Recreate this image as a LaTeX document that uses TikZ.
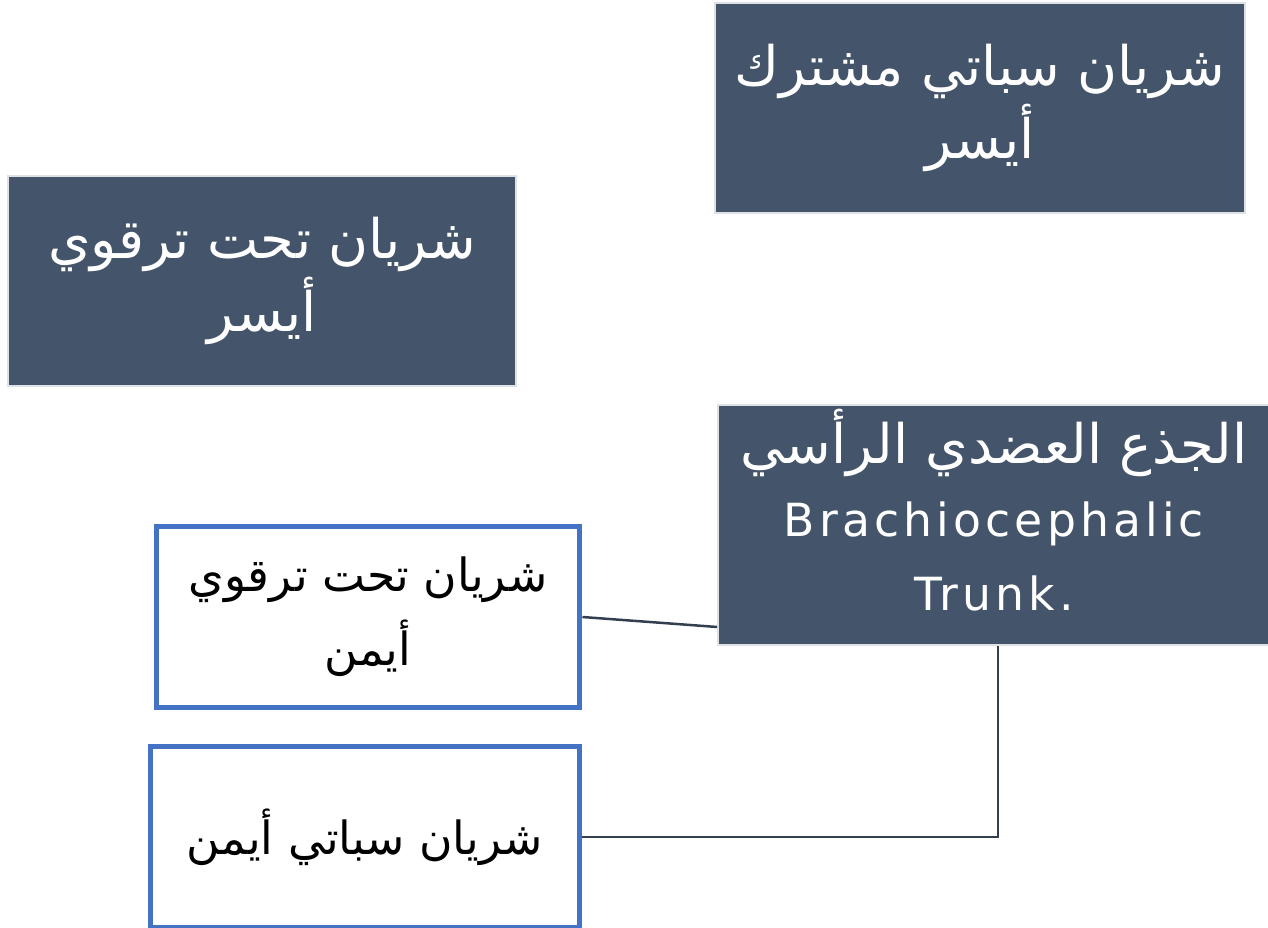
\documentclass[tikz,border=0pt]{standalone}
\usepackage{fontspec}
\setmainfont{DejaVu Sans}
\newfontfamily\arabicfont[Script=Arabic]{DejaVu Sans}
\newfontfamily\latinfont[LetterSpace=9]{DejaVu Sans}
\TeXXeTstate=1
\definecolor{arteryslate}{RGB}{68, 84, 106}
\definecolor{arteryedge}{RGB}{222, 226, 230}
\definecolor{arteryblue}{RGB}{68, 114, 196}
\definecolor{arteryline}{RGB}{51, 63, 80}
\newcommand{\arline}[1]{\beginR#1\endR}

\begin{document}
\begin{tikzpicture}[x=0.02cm, y=-0.02cm,
    darkbox/.style={draw=arteryedge, line width=0.04cm, fill=arteryslate, text=white,
        align=center, inner sep=0pt, font=\arabicfont\fontsize{31}{42}\selectfont},
    whitebox/.style={draw=arteryblue, line width=0.1cm, fill=white, text=black,
        align=center, inner sep=0pt, font=\arabicfont\fontsize{26}{42}\selectfont},
    conn/.style={draw=arteryline, line width=0.05cm}]
        \useasboundingbox (0,0) rectangle (1268,927);

        % Left side vessels
        \node[darkbox, minimum width=10.6cm, minimum height=4.2cm] (lcar) at (980,108)
            {\arline{شريان سباتي مشترك}\\\arline{أيسر}};
        \node[darkbox, minimum width=10.16cm, minimum height=4.2cm] (lsub) at (262,281)
            {\arline{شريان تحت ترقوي}\\\arline{أيسر}};

        % Trunk
        \node[darkbox, minimum width=11.04cm, minimum height=4.8cm] (trunk) at (994,525) {};
        \node[text=white, align=center, inner sep=0pt, font=\arabicfont\fontsize{31}{42}\selectfont]
            (trunktext) at ([yshift=0.3cm]trunk.center)
            {\arline{الجذع العضدي الرأسي}\\
             {\latinfont\fontsize{26}{42}\selectfont Brachiocephalic}\\
             {\latinfont\fontsize{26}{42}\selectfont Trunk.}};

        % Right side vessels
        \node[whitebox, minimum width=8.48cm, minimum height=3.62cm] (rsub) at (368,617)
            {\arline{شريان تحت ترقوي}\\\arline{أيمن}};
        \node[whitebox, minimum width=8.6cm, minimum height=3.64cm] (rcar) at (365,837)
            {\arline{شريان سباتي أيمن}};

        % Connectors
        \draw[conn] (rsub.east) -- ([yshift=-2.04cm]trunk.west);
        \draw[conn] ([xshift=0.08cm]trunk.south) |- (rcar.east);
    \end{tikzpicture}
\end{document}
